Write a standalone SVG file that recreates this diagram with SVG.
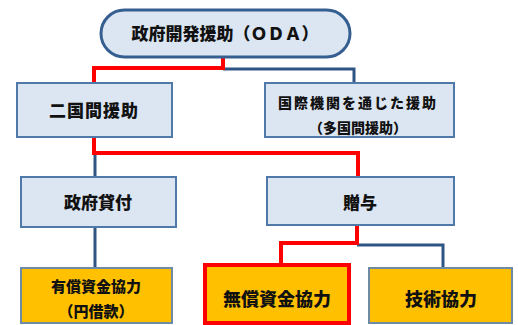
<svg xmlns="http://www.w3.org/2000/svg" width="518" height="325" viewBox="0 0 518 325">
<style>
.blue{fill:#dce6f2;stroke:#4f79a8;stroke-width:2}
.org{fill:#ffc000;stroke:#6f8aa3;stroke-width:2}
.t{font-family:"Noto Sans CJK JP","Noto Sans CJK SC",sans-serif;font-weight:900;fill:#111;text-anchor:middle}
.cb{fill:none;stroke:#2f5582;stroke-width:3}
.cr{fill:none;stroke:#ff0000;stroke-width:4}
</style>
<rect width="518" height="325" fill="#ffffff"/>
<g id="connectors">
<polyline class="cb" points="223,69 354,69 354,83"/>
<polyline class="cr" points="223,57 223,68 94,68 94,83"/>
<polyline class="cb" points="95,153 95,177"/>
<polyline class="cr" points="94,137 94,153 358,153 358,177"/>
<polyline class="cb" points="95,227 95,268"/>
<polyline class="cb" points="357,245 443,245 443,268"/>
<polyline class="cr" points="357,225 357,243 281,243 281,264"/>
</g>
<g id="oda">
<rect x="101" y="10" width="249" height="47" rx="23.5" fill="#dce6f2" stroke="#365f91" stroke-width="3"/>
<text class="t" x="225" y="40" font-size="17">政府開発援助（ＯＤＡ）</text>
</g>
<g id="bilateral">
<rect class="blue" x="17" y="83" width="155" height="54"/>
<text class="t" x="94" y="117" font-size="17" letter-spacing="1">二国間援助</text>
</g>
<g id="multilateral">
<rect class="blue" x="265" y="83" width="189" height="54"/>
<text class="t" x="358" y="108" font-size="14" letter-spacing="2">国際機関を通じた援助</text>
<text class="t" x="358" y="133" font-size="14">（多国間援助）</text>
</g>
<g id="loan">
<rect class="blue" x="21" y="177" width="155" height="50"/>
<text class="t" x="98" y="209" font-size="17">政府貸付</text>
</g>
<g id="grant">
<rect class="blue" x="267" y="177" width="187" height="48"/>
<text class="t" x="360" y="209" font-size="17">贈与</text>
</g>
<g id="yen-loan">
<rect class="org" x="21" y="268" width="151" height="55"/>
<text class="t" x="96" y="292" font-size="15">有償資金協力</text>
<text class="t" x="96" y="317" font-size="15">（円借款）</text>
</g>
<g id="grant-aid">
<rect x="205" y="265" width="144" height="58" fill="#ffc000" stroke="#ff0000" stroke-width="4"/>
<text class="t" x="277" y="306" font-size="18">無償資金協力</text>
</g>
<g id="tech">
<rect class="org" x="369" y="268" width="143" height="55"/>
<text class="t" x="441" y="306" font-size="18">技術協力</text>
</g>
</svg>
